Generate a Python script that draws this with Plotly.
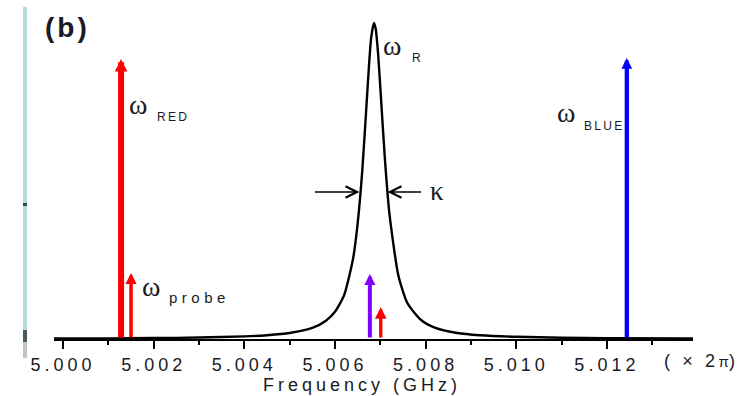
import plotly.graph_objects as go

# ---------------- data ----------------
curve_freq = [4.9998, 5.0010, 5.0020, 5.0030, 5.0040, 5.0045, 5.0050, 5.0055,
              5.0058, 5.0060, 5.0062, 5.0064, 5.0065, 5.0066, 5.0067, 5.00675,
              5.0068, 5.00686, 5.0069, 5.00695, 5.0070, 5.0071, 5.0072, 5.0074,
              5.0076, 5.0079, 5.0082, 5.0087, 5.0092, 5.0100, 5.0110, 5.0120, 5.0139]
curve_amp = [0.0015, 0.0020, 0.0030, 0.0046, 0.0082, 0.012, 0.019, 0.035,
             0.058, 0.086, 0.138, 0.255, 0.365, 0.528, 0.750, 0.864,
             0.955, 1.000, 0.980, 0.905, 0.797, 0.573, 0.398, 0.200,
             0.113, 0.060, 0.036, 0.019, 0.012, 0.0070, 0.0041, 0.0027, 0.0015]

arrow_freq = [5.00128, 5.00150, 5.00677, 5.00701, 5.01244]
arrow_amp = [0.886, 0.209, 0.206, 0.101, 0.889]

kappa_level = 0.465
kappa_tips = [5.00654, 5.00716]

tick_vals = [5.000, 5.002, 5.004, 5.006, 5.008, 5.010, 5.012]
tick_labels = ["5.000", "5.002", "5.004", "5.006", "5.008", "5.010", "5.012"]
minor_vals = [5.001, 5.003, 5.005, 5.007, 5.009, 5.011, 5.013]

# ---------------- styles ----------------
arrow_colors = ["#ff0000", "#ff0000", "#8000ff", "#ff0000", "#0000ff"]
arrow_widths = [6.0, 3.5, 4.0, 3.3, 4.3]
arrow_sizes = [0.42, 0.63, 0.55, 0.70, 0.50]

W, H = 740, 396
ML, MR, MT, MB = 54, 47, 10, 57
TXT = "#1a1a24"
SANS = "Arial, Liberation Sans, sans-serif"
SERIF = "Times New Roman, Liberation Serif, serif"


def px(x):
    return (x - ML) / (W - ML - MR)


def py(y):
    return (H - MB - y) / (H - MT - MB)


def spaced(t, ls):
    return "<span style='letter-spacing:%spx'>%s</span>" % (ls, t)


fig = go.Figure()
fig.add_trace(go.Scatter(x=curve_freq, y=curve_amp, mode="lines",
                         line=dict(color="black", width=2.4, shape="spline", smoothing=0.6),
                         hoverinfo="skip", showlegend=False))

ann = []
for xv, yv, c, w, s in zip(arrow_freq, arrow_amp, arrow_colors, arrow_widths, arrow_sizes):
    ann.append(dict(x=xv, y=yv, xref="x", yref="y", ax=xv, ay=0, axref="x", ayref="y",
                    text="", showarrow=True, arrowhead=2, arrowsize=s, arrowwidth=w,
                    arrowcolor=c, standoff=0, font=dict(size=1)))

# kappa linewidth arrows
for tip, off in zip(kappa_tips, [-46, 35]):
    ann.append(dict(x=tip, y=kappa_level, xref="x", yref="y", ax=off, ay=0,
                    text="", showarrow=True, arrowhead=5, arrowsize=1.5, arrowwidth=1.5,
                    arrowcolor="black", standoff=0, font=dict(size=1)))


def label(text, x, y, size, font=SANS, xanchor="left", bold=False):
    t = "<b>%s</b>" % text if bold else text
    ann.append(dict(text=t, x=px(x), y=py(y), xref="paper", yref="paper",
                    xanchor=xanchor, yanchor="middle", showarrow=False,
                    font=dict(family=font, size=size, color=TXT)))


label(spaced("(b)", 3), 67, 28, 28, xanchor="center", bold=True)
# omega labels
label("ω", 127, 104, 28, SERIF)
label(spaced("RED", 2.3), 155, 117, 12)
label("ω", 381, 45, 28, SERIF)
label("R", 410, 58, 12)
label("ω", 140, 286, 28, SERIF)
label(spaced("probe", 4.5), 167, 297, 15)
label("ω", 555, 112, 28, SERIF)
label(spaced("BLUE", 2.3), 582, 126, 12)
label("κ", 428, 191, 27, SERIF)
label("<span style='letter-spacing:3.6px'>( × 2</span><span style='font-size:15px'>π</span><span>)</span>",
      662, 361, 18)
label(spaced("Frequency (GHz)", 4), 362, 385, 18, xanchor="center")

shapes = [
    dict(type="rect", xref="paper", yref="paper", x0=px(23), x1=px(27), y0=py(330), y1=py(7),
         fillcolor="#b9d8dc", line=dict(width=0), layer="above"),
    dict(type="rect", xref="paper", yref="paper", x0=px(23), x1=px(27), y0=py(206), y1=py(203),
         fillcolor="#2f4f4f", line=dict(width=0), layer="above"),
    dict(type="rect", xref="paper", yref="paper", x0=px(23), x1=px(27), y0=py(342), y1=py(330),
         fillcolor="#4a5a5e", line=dict(width=0), layer="above"),
    dict(type="rect", xref="paper", yref="paper", x0=px(23), x1=px(27), y0=py(358), y1=py(342),
         fillcolor="#c4c4c4", line=dict(width=0), layer="above"),
]

fig.update_layout(
    width=W, height=H, autosize=False,
    margin=dict(l=ML, r=MR, t=MT, b=MB, pad=0),
    paper_bgcolor="white", plot_bgcolor="white",
    annotations=ann, shapes=shapes, showlegend=False,
    xaxis=dict(range=[4.9998, 5.0139], showgrid=False, zeroline=False,
               showline=True, linecolor="black", linewidth=2,
               ticks="outside", ticklen=8, tickwidth=2, tickcolor="black",
               tickvals=tick_vals, ticktext=[spaced(t, 4) for t in tick_labels],
               tickfont=dict(family=SANS, size=18, color=TXT),
               minor=dict(tickvals=minor_vals, ticks="outside", ticklen=4,
                          tickwidth=2, tickcolor="black")),
    yaxis=dict(range=[0, 1.0411], visible=False, showgrid=False, zeroline=False),
)

fig.write_html("out.html", config={"displayModeBar": False},
               post_script="document.body.style.margin='0';document.body.style.overflow='hidden';")
